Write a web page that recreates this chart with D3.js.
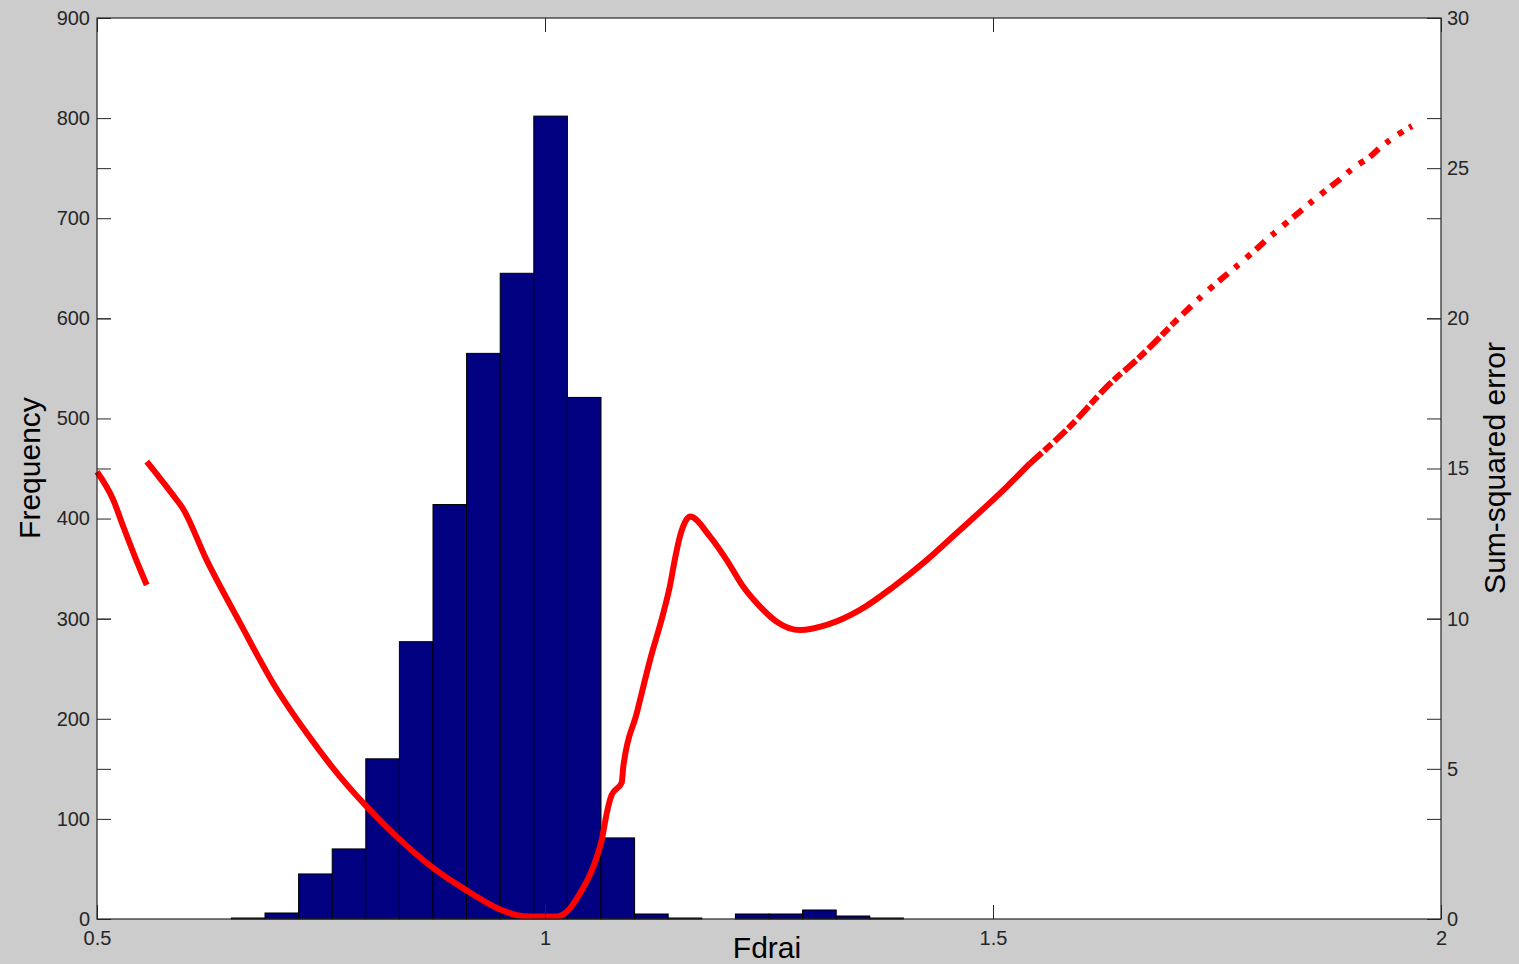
<!DOCTYPE html>
<html>
<head>
<meta charset="utf-8">
<script src="https://cdn.jsdelivr.net/npm/d3@7"></script>
<style>
  html, body { margin: 0; padding: 0; background: #cccccc; }
  svg { display: block; }
  .tick text { font-family: "Liberation Sans", Arial, sans-serif; font-size: 20px; fill: #262626; }
  .tick line { stroke: #262626; }
</style>
</head>
<body>
<div id="chart"></div>
<script>
// histogram of Fdrai (bin centres and counts)
const binCenters = [0.66875, 0.70625, 0.74375, 0.78125, 0.81875, 0.85625, 0.89375, 0.93125, 0.96875, 1.00625,
                    1.04375, 1.08125, 1.11875, 1.15625, 1.19375, 1.23125, 1.26875, 1.30625, 1.34375, 1.38125];
const binCounts = [1, 6, 45, 70, 160, 277, 414, 565, 645, 802,
                   521, 81, 5, 1, 0, 5, 5, 9, 3, 1];
const binWidth = 0.0375;

// sum-squared error, first short piece
const sseX1 = [0.5, 0.5182, 0.5294, 0.5424, 0.5555];
const sseY1 = [14.89, 13.95, 13.06, 12.06, 11.12];

// sum-squared error, main curve
const sseX2 = [0.5555, 0.5890, 0.5945, 0.6224, 0.6596, 0.6964, 0.7340, 0.7712, 0.8010, 0.8359,
               0.8717, 0.9088, 0.9461, 0.9684, 0.9833, 1.0131, 1.0242, 1.0391, 1.0539, 1.0633,
               1.0689, 1.0744, 1.0856, 1.0874, 1.1024, 1.1172, 1.1320, 1.1395, 1.1451, 1.1507,
               1.1560, 1.1618, 1.1842, 1.2028, 1.2213, 1.2400, 1.2586, 1.2846, 1.3144, 1.3516,
               1.3887, 1.4260, 1.4613, 1.4780, 1.5153, 1.5413, 1.5896, 1.6269, 1.6641, 1.7012,
               1.7385, 1.7812, 1.8128, 1.8371, 1.8650, 1.8873, 1.9040, 1.9208, 1.9319, 1.9542, 1.9676];
const sseY2 = [15.23, 13.95, 13.73, 11.95, 9.86, 7.86, 6.19, 4.74, 3.74, 2.70,
               1.78, 1.02, 0.37, 0.13, 0.08, 0.08, 0.24, 0.86, 1.74, 2.63,
               3.52, 4.13, 4.54, 5.07, 6.85, 8.62, 10.18, 11.10, 12.00, 12.75,
               13.20, 13.40, 12.73, 11.95, 11.06, 10.40, 9.90, 9.62, 9.79, 10.29,
               11.06, 11.95, 12.90, 13.35, 14.39, 15.17, 16.51, 17.72, 18.72, 19.83,
               20.89, 21.97, 22.81, 23.42, 24.11, 24.63, 25.05, 25.38, 25.68, 26.16, 26.40];
// where the markers start to thin out
const denseUntil = 1.5413, sparseFrom = 1.7012;

const xTicks = [0.5, 1, 1.5, 2];
const leftTicks = [0, 100, 200, 300, 400, 500, 600, 700, 800, 900];
const rightTicks = [0, 5, 10, 15, 20, 25, 30];

const width = 1519, height = 964;
const margin = {top: 18, right: 78, bottom: 45, left: 97};
const iw = width - margin.left - margin.right;
const ih = height - margin.top - margin.bottom;

const svg = d3.select('#chart').append('svg')
    .attr('width', width)
    .attr('height', height);

svg.append('rect')
    .attr('width', width).attr('height', height)
    .attr('fill', '#cccccc');

const g = svg.append('g')
    .attr('transform', `translate(${margin.left},${margin.top})`);

const x = d3.scaleLinear().domain([0.5, 2]).range([0, iw]);
const yL = d3.scaleLinear().domain([0, 900]).range([ih, 0]);
const yR = d3.scaleLinear().domain([0, 30]).range([ih, 0]);

g.append('rect')
    .attr('width', iw).attr('height', ih)
    .attr('fill', '#ffffff');

// bars
g.selectAll('rect.bar')
    .data(binCenters.map((c, i) => ({c: c, n: binCounts[i]})))
    .join('rect')
    .attr('class', 'bar')
    .attr('x', d => x(d.c - binWidth / 2))
    .attr('width', d => x(d.c + binWidth / 2) - x(d.c - binWidth / 2))
    .attr('y', d => yL(d.n))
    .attr('height', d => yL(0) - yL(d.n))
    .attr('fill', '#000080')
    .attr('stroke', '#000000')
    .attr('stroke-width', 1);

// error curve
const line = d3.line()
    .x(d => x(d[0]))
    .y(d => yR(d[1]))
    .curve(d3.curveMonotoneX);

const pts1 = sseX1.map((v, i) => [v, sseY1[i]]);
const pts2 = sseX2.map((v, i) => [v, sseY2[i]]);

const redStyle = sel => sel
    .attr('fill', 'none')
    .attr('stroke', '#ff0000')
    .attr('stroke-width', 6)
    .attr('stroke-linejoin', 'round');

g.append('path').datum(pts1).attr('d', line).call(redStyle);
g.append('path').datum(pts2.filter(d => d[0] <= denseUntil)).attr('d', line).call(redStyle);
g.append('path').datum(pts2.filter(d => d[0] >= denseUntil && d[0] <= sparseFrom)).attr('d', line).call(redStyle)
    .attr('stroke-dasharray', '16,3,10,4');
g.append('path').datum(pts2.filter(d => d[0] >= sparseFrom)).attr('d', line).call(redStyle)
    .attr('stroke-dasharray', '6,7,12,9,5,10');

// axes, ticks pointing inward
const tick = 14;
g.append('g')
    .call(d3.axisLeft(yL).tickValues(leftTicks).tickSize(-tick).tickPadding(7))
    .call(a => a.select('.domain').remove());
g.append('g')
    .call(d3.axisLeft(yR).tickValues(rightTicks).tickSize(-tick).tickFormat(''))
    .call(a => a.select('.domain').remove());
g.append('g')
    .attr('transform', `translate(${iw},0)`)
    .call(d3.axisRight(yR).tickValues(rightTicks).tickSize(-tick).tickPadding(6))
    .call(a => a.select('.domain').remove());
g.append('g')
    .attr('transform', `translate(${iw},0)`)
    .call(d3.axisRight(yL).tickValues(leftTicks).tickSize(-tick).tickFormat(''))
    .call(a => a.select('.domain').remove());
g.append('g')
    .attr('transform', `translate(0,${ih})`)
    .call(d3.axisBottom(x).tickValues(xTicks).tickSize(-tick).tickPadding(12).tickFormat(d3.format('')))
    .call(a => a.select('.domain').remove());
g.append('g')
    .call(d3.axisTop(x).tickValues(xTicks).tickSize(-tick).tickFormat(''))
    .call(a => a.select('.domain').remove());

g.append('rect')
    .attr('width', iw).attr('height', ih)
    .attr('fill', 'none')
    .attr('stroke', '#262626')
    .attr('stroke-width', 1.2);

// axis titles
const titleFont = '"Liberation Sans", Arial, sans-serif';
svg.append('text')
    .text('Fdrai')
    .attr('x', 767).attr('y', 958)
    .attr('text-anchor', 'middle')
    .attr('font-family', titleFont)
    .attr('font-size', '30px')
    .attr('fill', '#000000');
svg.append('text')
    .text('Frequency')
    .attr('text-anchor', 'middle')
    .attr('transform', 'translate(40,468) rotate(-90)')
    .attr('font-family', titleFont)
    .attr('font-size', '30px')
    .attr('fill', '#000000');
svg.append('text')
    .text('Sum-squared error')
    .attr('text-anchor', 'middle')
    .attr('transform', 'translate(1505,468) rotate(-90)')
    .attr('font-family', titleFont)
    .attr('font-size', '30px')
    .attr('fill', '#000000');
</script>
</body>
</html>
